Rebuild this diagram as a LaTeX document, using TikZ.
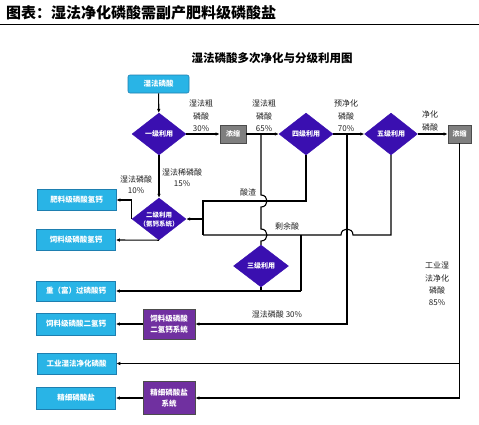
\documentclass[tikz,border=0pt]{standalone}
\usepackage{fontspec}
\setmainfont{Noto Sans CJK SC}
\usetikzlibrary{shapes.geometric,arrows.meta}
\definecolor{cyanc}{HTML}{29B4E6}
\definecolor{cyanb}{HTML}{1E7FB0}
\definecolor{diamc}{HTML}{3A0FB0}
\definecolor{grayc}{HTML}{7F7F7F}
\definecolor{purc}{HTML}{7030A0}
\definecolor{txt}{HTML}{222222}
\begin{document}
\begin{tikzpicture}[x=1pt,y=-1pt,
 cbox/.style={rectangle,fill=cyanc,draw=cyanb,line width=0.6pt,text=white,font=\bfseries\fontsize{7.5}{8}\selectfont,minimum width=79pt,minimum height=21pt,inner sep=0pt},
 dia/.style={diamond,fill=diamc,draw=diamc,text=white,font=\bfseries\fontsize{7}{8.5}\selectfont,minimum width=54pt,minimum height=42pt,inner sep=0pt,align=center},
 gbox/.style={rectangle,fill=grayc,draw=gray!60!black,line width=0.6pt,text=white,font=\bfseries\fontsize{7}{8}\selectfont,minimum height=18pt,inner sep=0pt},
 pbox/.style={rectangle,fill=purc,draw=black!70,line width=0.6pt,text=white,font=\bfseries\fontsize{7.5}{11.5}\selectfont,minimum width=52pt,inner sep=0pt,align=center},
 lab/.style={text=txt,font=\fontsize{8}{12.5}\selectfont,align=center,inner sep=0pt},
 ln/.style={line width=1.1pt,black},
 arr/.style={ln,-{Latex[length=4pt,width=3.5pt]}}
]
\useasboundingbox (0,0) rectangle (479,424);
\fill[white] (0,0) rectangle (479,424);
% title
\node[anchor=west,inner sep=0pt,font=\bfseries\fontsize{15}{16}\selectfont] (title) at (6,13) {图表：湿法净化磷酸需副产肥料级磷酸盐};
\coordinate (tl) at (0,24.5);
\coordinate (tr) at (479,24.5);
\draw[line width=1.3pt] (tl) -- (tr);
\node[inner sep=0pt,font=\bfseries\fontsize{11.5}{13}\selectfont] (sub) at (272,58) {湿法磷酸多次净化与分级利用图};

% nodes
\node[cbox,rounded corners=2pt,minimum width=61pt,minimum height=18pt] (src) at (158.5,84) {湿法磷酸};
\node[dia] (d1) at (159,134) {一级利用};
\node[gbox,minimum width=26pt] (c1) at (233,134) {浓缩};
\node[dia] (d4) at (306,134) {四级利用};
\node[dia,minimum width=53pt] (d5) at (391,134) {五级利用};
\node[gbox,minimum width=23pt] (c2) at (459.5,134) {浓缩};
\node[dia] (d2) at (159,219) {};
\node[text=white,font=\bfseries\fontsize{6.5}{9}\selectfont,align=center,inner sep=0pt] (d2t) at (159,219.5) {二级利用\\（氨钙系统）};
\node[dia,minimum width=55pt] (d3) at (261,266) {三级利用};

\node[cbox] (b1) at (76.5,200) {肥料级磷酸氢钙};
\node[cbox] (b2) at (76,240) {饲料级磷酸氢钙};
\node[cbox,minimum height=20pt] (b3) at (76,291) {重（富）过磷酸钙};
\node[cbox,minimum height=22pt] (b4) at (76,324) {饲料级磷酸二氢钙};
\node[pbox,minimum height=30pt] (p1) at (169,324) {饲料级磷酸\\二氢钙系统};
\node[cbox] (b5) at (76.5,363.5) {工业湿法净化磷酸};
\node[cbox,minimum height=22pt] (b6) at (76,398) {精细磷酸盐};
\node[pbox,minimum height=33pt] (p2) at (169,398) {精细磷酸盐\\系统};

% labels
\node[lab] (l1) at (201,116) {湿法粗\\磷酸\\30\%};
\node[lab] (l2) at (264,116) {湿法粗\\磷酸\\65\%};
\node[lab] (l3) at (346,116) {预净化\\磷酸\\70\%};
\node[lab] (l4) at (430,121) {净化\\磷酸};
\node[lab,font=\fontsize{8}{11}\selectfont] (l5) at (182,177.5) {湿法稀磷酸\\15\%};
\node[lab,font=\fontsize{8}{11}\selectfont] (l6) at (136,184.5) {湿法磷酸\\10\%};
\node[lab] (l7) at (248,192) {酸渣};
\node[lab] (l8) at (287,226) {剩余酸};
\node[lab] (l9) at (277,314) {湿法磷酸 30\%};
\node[lab,font=\fontsize{8}{12.3}\selectfont] (l10) at (437,284) {工业湿\\法净化\\磷酸\\85\%};

% junction coordinates
\coordinate (j1) at (261,134);
\coordinate (j2) at (347,134);
\coordinate (k4) at (306,201);
\coordinate (kl) at (203,201);
\coordinate (km) at (203,219);
\coordinate (kb) at (203,235);
\coordinate (k5) at (391,235);
\coordinate (kj) at (301,235);
\coordinate (kj2) at (301,291);

% main row
\draw[arr] (src) -- (d1);
\draw[arr] (d1) -- (c1);
\draw[arr] (c1) -- (d4);
\draw[arr] (d4) -- (d5);
\draw[arr] (d5) -- (c2);
\draw[arr] (d1) -- (d2);

% outputs of second stage
\draw[arr] (d2.west) |- (b1.east);
\draw[arr] (d2.south) -- (b2.east);

% slag and residual acid loops
\draw[ln] (d4.south) -- (k4) -- (kl) -- (kb);
\draw[arr] (km) -- (d2.east);
\draw[ln] (d5.south) -- (k5) -- (353,235) .. controls (353,227) and (341,227) .. (341,235) -- (kb);
\draw[ln] (j1) -- (261,195) .. controls (269,195) and (269,207) .. (261,207) -- (261,229) .. controls (269,229) and (269,241) .. (261,241) -- (d3.north);
\draw[ln] (kj) -- (kj2);
\draw[ln] (d3.south) -- (d3.south |- kj2);
\draw[arr] (kj2) -- (b3.east);

% 30% wet acid to feed-grade MCP
\draw[arr] (j2) |- (p1.east);
\draw[arr] (p1.west) -- (b4.east);

% purified acid
\draw[arr] (c2.south) |- (p2.east);
\draw[arr] (c2.south |- b5.east) -- (b5.east);
\draw[arr] (p2.west) -- (b6.east);
\end{tikzpicture}
\end{document}
